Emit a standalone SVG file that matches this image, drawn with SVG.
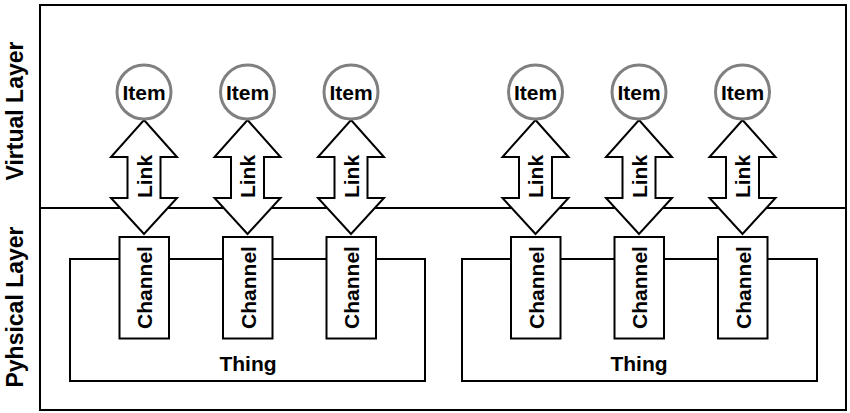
<svg xmlns="http://www.w3.org/2000/svg" xmlns:xlink="http://www.w3.org/1999/xlink" width="850" height="413" viewBox="0 0 850 413">
<style>
.ln{fill:none;stroke:#000;stroke-width:2}
.box{fill:#fff;stroke:#000;stroke-width:2}
.item{fill:#fff;stroke:#808080;stroke-width:3}
.arr{fill:#fff;stroke:#000;stroke-width:2;stroke-linejoin:miter}
.t{font-family:"Liberation Sans",Arial,sans-serif;font-weight:bold;font-size:21px;fill:#000;text-anchor:middle}
.lay{font-family:"Liberation Sans",Arial,sans-serif;font-weight:bold;font-size:23px;fill:#000;text-anchor:middle}
</style>
<defs>
<path id="linkshape" d="M0,120 L33,157 L16.5,157 L16.5,198 L33,198 L0,234 L-33,198 L-16.5,198 L-16.5,157 L-33,157 Z"/>
</defs>
<rect width="850" height="413" fill="#fff"/>
<g id="layers">
<rect class="ln" x="40" y="5" width="806" height="405"/>
<line class="ln" x1="40" y1="208" x2="846" y2="208"/>
<text class="lay" transform="translate(23,111) rotate(-90)">Virtual Layer</text>
<text class="lay" transform="translate(23,307) rotate(-90)">Pyhsical Layer</text>
</g>
<g id="thing1">
<rect class="box" x="70" y="259" width="355" height="122"/>
<text class="t" x="248" y="371">Thing</text>
</g>
<g id="thing2">
<rect class="box" x="462" y="259" width="355" height="122"/>
<text class="t" x="639" y="371">Thing</text>
</g>
<g id="channel1"><rect class="box" x="119.5" y="237" width="49.5" height="101.5"/><text class="t" transform="translate(152,287.5) rotate(-90)">Channel</text></g>
<g id="channel2"><rect class="box" x="223" y="237" width="49.5" height="101.5"/><text class="t" transform="translate(255.5,287.5) rotate(-90)">Channel</text></g>
<g id="channel3"><rect class="box" x="326.5" y="237" width="49.5" height="101.5"/><text class="t" transform="translate(359,287.5) rotate(-90)">Channel</text></g>
<g id="channel4"><rect class="box" x="511" y="237" width="49.5" height="101.5"/><text class="t" transform="translate(543.5,287.5) rotate(-90)">Channel</text></g>
<g id="channel5"><rect class="box" x="614.5" y="237" width="49.5" height="101.5"/><text class="t" transform="translate(647,287.5) rotate(-90)">Channel</text></g>
<g id="channel6"><rect class="box" x="718" y="237" width="49.5" height="101.5"/><text class="t" transform="translate(750.5,287.5) rotate(-90)">Channel</text></g>
<g id="connectors">
<use href="#linkshape" xlink:href="#linkshape" class="arr" transform="translate(144,0)"/>
<use href="#linkshape" xlink:href="#linkshape" class="arr" transform="translate(247.5,0)"/>
<use href="#linkshape" xlink:href="#linkshape" class="arr" transform="translate(351,0)"/>
<use href="#linkshape" xlink:href="#linkshape" class="arr" transform="translate(535.5,0)"/>
<use href="#linkshape" xlink:href="#linkshape" class="arr" transform="translate(639,0)"/>
<use href="#linkshape" xlink:href="#linkshape" class="arr" transform="translate(742.5,0)"/>
<text class="t" transform="translate(151.5,176.5) rotate(-90)">Link</text>
<text class="t" transform="translate(255,176.5) rotate(-90)">Link</text>
<text class="t" transform="translate(358.5,176.5) rotate(-90)">Link</text>
<text class="t" transform="translate(543,176.5) rotate(-90)">Link</text>
<text class="t" transform="translate(646.5,176.5) rotate(-90)">Link</text>
<text class="t" transform="translate(750,176.5) rotate(-90)">Link</text>
</g>
<g id="item1"><circle class="item" cx="144" cy="92" r="27"/><text class="t" x="144" y="100">Item</text></g>
<g id="item2"><circle class="item" cx="247.5" cy="92" r="27"/><text class="t" x="247.5" y="100">Item</text></g>
<g id="item3"><circle class="item" cx="351" cy="92" r="27"/><text class="t" x="351" y="100">Item</text></g>
<g id="item4"><circle class="item" cx="535.5" cy="92" r="27"/><text class="t" x="535.5" y="100">Item</text></g>
<g id="item5"><circle class="item" cx="639" cy="92" r="27"/><text class="t" x="639" y="100">Item</text></g>
<g id="item6"><circle class="item" cx="742.5" cy="92" r="27"/><text class="t" x="742.5" y="100">Item</text></g>
</svg>
